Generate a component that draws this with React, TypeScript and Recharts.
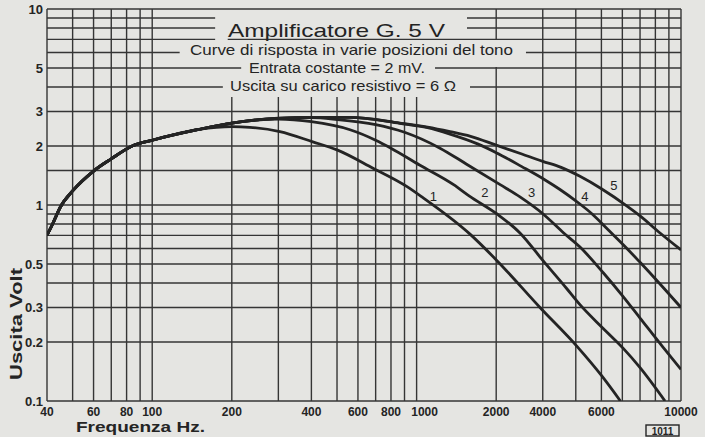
import React from 'react';
import { LineChart, Line, XAxis, YAxis, ReferenceLine, ReferenceDot } from 'recharts';

// shared low-frequency rise (all five tone positions coincide here)
const riseHz = [40, 42, 45, 50, 60, 70, 84, 100, 150];
const riseV = [0.7, 0.8, 0.98, 1.18, 1.49, 1.72, 2.0, 2.14, 2.43];

const curve1Hz = [200, 234, 304, 405, 500, 684, 920, 1056, 1592, 2014, 2928, 4042, 5000, 5900];
const curve1V = [2.51, 2.49, 2.37, 2.1, 1.91, 1.54, 1.24, 1.09, 0.71, 0.52, 0.3, 0.19, 0.135, 0.1];

const curve2Hz = [200, 300, 400, 560, 700, 800, 1026, 1380, 1584, 2014, 2460, 3006, 3694, 4148, 5068, 6060, 7000, 8700];
const curve2V = [2.62, 2.74, 2.66, 2.42, 2.14, 1.95, 1.6, 1.27, 1.11, 0.9, 0.72, 0.52, 0.375, 0.31, 0.235, 0.185, 0.148, 0.1];

const curve3Hz = [200, 300, 400, 500, 700, 900, 1226, 1540, 2070, 2460, 3010, 3600, 4150, 5090, 6000, 7000, 8500, 10000];
const curve3V = [2.62, 2.77, 2.79, 2.73, 2.57, 2.35, 1.95, 1.62, 1.27, 1.1, 0.9, 0.72, 0.61, 0.45, 0.345, 0.265, 0.19, 0.145];

const curve4Hz = [200, 300, 400, 560, 865, 1100, 1337, 1700, 2000, 2500, 3040, 3485, 4000, 4656, 5290, 6100, 7000, 8200, 10000];
const curve4V = [2.62, 2.77, 2.8, 2.8, 2.61, 2.48, 2.3, 2.05, 1.85, 1.57, 1.35, 1.2, 1.05, 0.89, 0.75, 0.62, 0.51, 0.405, 0.3];

const curve5Hz = [200, 300, 400, 560, 865, 1100, 1337, 1600, 2000, 2500, 3000, 3500, 4148, 5000, 6230, 7000, 8330, 10000];
const curve5V = [2.62, 2.77, 2.8, 2.8, 2.62, 2.5, 2.37, 2.24, 2.02, 1.82, 1.67, 1.56, 1.4, 1.21, 0.99, 0.88, 0.72, 0.59];

const curveNames = ['1', '2', '3', '4', '5'];
const labelHz = [1156, 1814, 2724, 4333, 5579];
const labelV = [1.108, 1.165, 1.155, 1.111, 1.26];

const xTicks = [40, 60, 80, 100, 200, 400, 600, 800, 1000, 2000, 3000, 5000, 10000];
const xTickLabels = ['40', '60', '80', '100', '200', '400', '600', '800', '1000', '2000', '4000', '6000', '10000'];
const yTicks = [0.1, 0.2, 0.3, 0.5, 1, 2, 3, 5, 10];
const yTickLabels = ['0.1', '0.2', '0.3', '0.5', '1', '2', '3', '5', '10'];

const gridHz = [40, 50, 60, 70, 80, 90, 100, 200, 300, 400, 500, 600, 700, 800, 900, 1000,
  2000, 3000, 4000, 5000, 6000, 7000, 8000, 9000, 10000];
const gridV = [0.1, 0.2, 0.3, 0.4, 0.5, 0.6, 0.7, 0.8, 0.9, 1, 1.5, 2, 3, 4, 5, 6, 7, 8, 9, 10];

// where the title block interrupts the ruling
const hCuts: Record<number, [number, number]> = {
  9: [173, 1551], 8: [173, 1551], 7: [173, 193], 6: [127, 2592], 5: [217, 1174], 4: [185, 1592],
};
const vCuts: Record<number, [number, number]> = {
  200: [3.56, 10], 300: [3.56, 10], 400: [3.56, 10], 500: [3.56, 10], 600: [3.56, 10],
  700: [3.56, 10], 800: [3.56, 10], 900: [3.56, 10], 1000: [3.56, 10], 2000: [5.06, 6.95],
};

const X0 = 40, X1 = 10000, Y0 = 0.1, Y1 = 10;
const INK = '#242424';
const GRID = '#353535';
const PAPER = '#e5e5e2';
const FONT = '"Liberation Sans", Arial, sans-serif';

const build = (hz: number[], v: number[]) => hz.map((f, i) => ({ f, v: v[i] }));
const series = [
  build([...riseHz, ...curve1Hz], [...riseV, ...curve1V]),
  build([...riseHz, ...curve2Hz], [...riseV, ...curve2V]),
  build([...riseHz, ...curve3Hz], [...riseV, ...curve3V]),
  build([...riseHz, ...curve4Hz], [...riseV, ...curve4V]),
  build([...riseHz, ...curve5Hz], [...riseV, ...curve5V]),
];

function gridLines() {
  const out: React.ReactElement[] = [];
  gridV.forEach((v) => {
    const cut = hCuts[v];
    const segs: [number, number][] = cut ? [[X0, cut[0]], [cut[1], X1]] : [[X0, X1]];
    segs.forEach(([a, b], i) =>
      out.push(
        <ReferenceLine key={`h${v}-${i}`} segment={[{ x: a, y: v }, { x: b, y: v }]}
          stroke={GRID} strokeWidth={1.4} ifOverflow="visible" />
      )
    );
  });
  gridHz.forEach((f) => {
    const cut = vCuts[f];
    const segs: [number, number][] = cut ? [[Y0, cut[0]], [cut[1], Y1]] : [[Y0, Y1]];
    segs.forEach(([a, b], i) => {
      if (b <= a) return;
      out.push(
        <ReferenceLine key={`v${f}-${i}`} segment={[{ x: f, y: a }, { x: f, y: b }]}
          stroke={GRID} strokeWidth={1.4} ifOverflow="visible" />
      );
    });
  });
  return out;
}

function XTick(props: any) {
  const { x, y, payload } = props;
  const i = xTicks.indexOf(payload.value);
  const dx = payload.value === 1000 ? 8 : 0;
  return (
    <text x={x + dx} y={y} dy="0.71em" textAnchor="middle" fill={INK}
      fontSize={12} fontWeight={700} fontFamily={FONT}>
      {xTickLabels[i]}
    </text>
  );
}

export default function App() {
  return (
    <div style={{ position: 'absolute', left: 0, top: 0, width: 705, height: 437, background: PAPER, overflow: 'hidden' }}>
      <LineChart width={705} height={437} margin={{ top: 9, right: 24, bottom: 0, left: 0 }}>
        <XAxis dataKey="f" type="number" scale="log" domain={[X0, X1]} ticks={xTicks} interval={0}
          allowDataOverflow tick={<XTick />} tickLine={false} axisLine={false} tickSize={0} tickMargin={6} height={36} />
        <YAxis type="number" scale="log" domain={[Y0, Y1]} ticks={yTicks} interval={0} allowDataOverflow
          tickFormatter={(v: number) => yTickLabels[yTicks.indexOf(v)]} tickLine={false} axisLine={false}
          tickSize={0} tickMargin={4} width={47}
          tick={{ fill: INK, fontSize: 13, fontWeight: 700, fontFamily: FONT }} />
        {gridLines()}
        {series.map((d, i) => (
          <Line key={curveNames[i]} data={d} dataKey="v" type="monotone" stroke={INK} strokeWidth={2.8}
            dot={false} activeDot={false} isAnimationActive={false} />
        ))}
        {curveNames.map((n, i) => (
          <ReferenceDot key={`l${n}`} x={labelHz[i]} y={labelV[i]} r={0} fill="none" stroke="none"
            label={{ value: n, position: 'center', fill: INK, fontSize: 13, fontFamily: FONT }} />
        ))}
      </LineChart>
      <svg width={705} height={437} style={{ position: 'absolute', left: 0, top: 0, pointerEvents: 'none' }}
        fontFamily={FONT} fill={INK}>
        <text x={228} y={37} fontSize={19} textLength={217} lengthAdjust="spacingAndGlyphs">Amplificatore G. 5 V</text>
        <text x={190} y={55} fontSize={15} textLength={323} lengthAdjust="spacingAndGlyphs">Curve di risposta in varie posizioni del tono</text>
        <text x={249} y={73} fontSize={14} textLength={176} lengthAdjust="spacingAndGlyphs">Entrata costante = 2 mV.</text>
        <text x={230} y={91} fontSize={14.5} textLength={226} lengthAdjust="spacingAndGlyphs">Uscita su carico resistivo = 6 Ω</text>
        <text x={76} y={432} fontSize={14} fontWeight={700} textLength={129} lengthAdjust="spacingAndGlyphs">Frequenza Hz.</text>
        <text x={22} y={324} fontSize={16} fontWeight={700} textAnchor="middle" textLength={112}
          lengthAdjust="spacingAndGlyphs" transform="rotate(-90 22 324)">Uscita Volt</text>
        <rect x={646} y={425} width={33} height={11} fill="none" stroke={INK} strokeWidth={1.4} />
        <text x={662.5} y={434.5} fontSize={10} fontWeight={700} textAnchor="middle">1011</text>
      </svg>
    </div>
  );
}
